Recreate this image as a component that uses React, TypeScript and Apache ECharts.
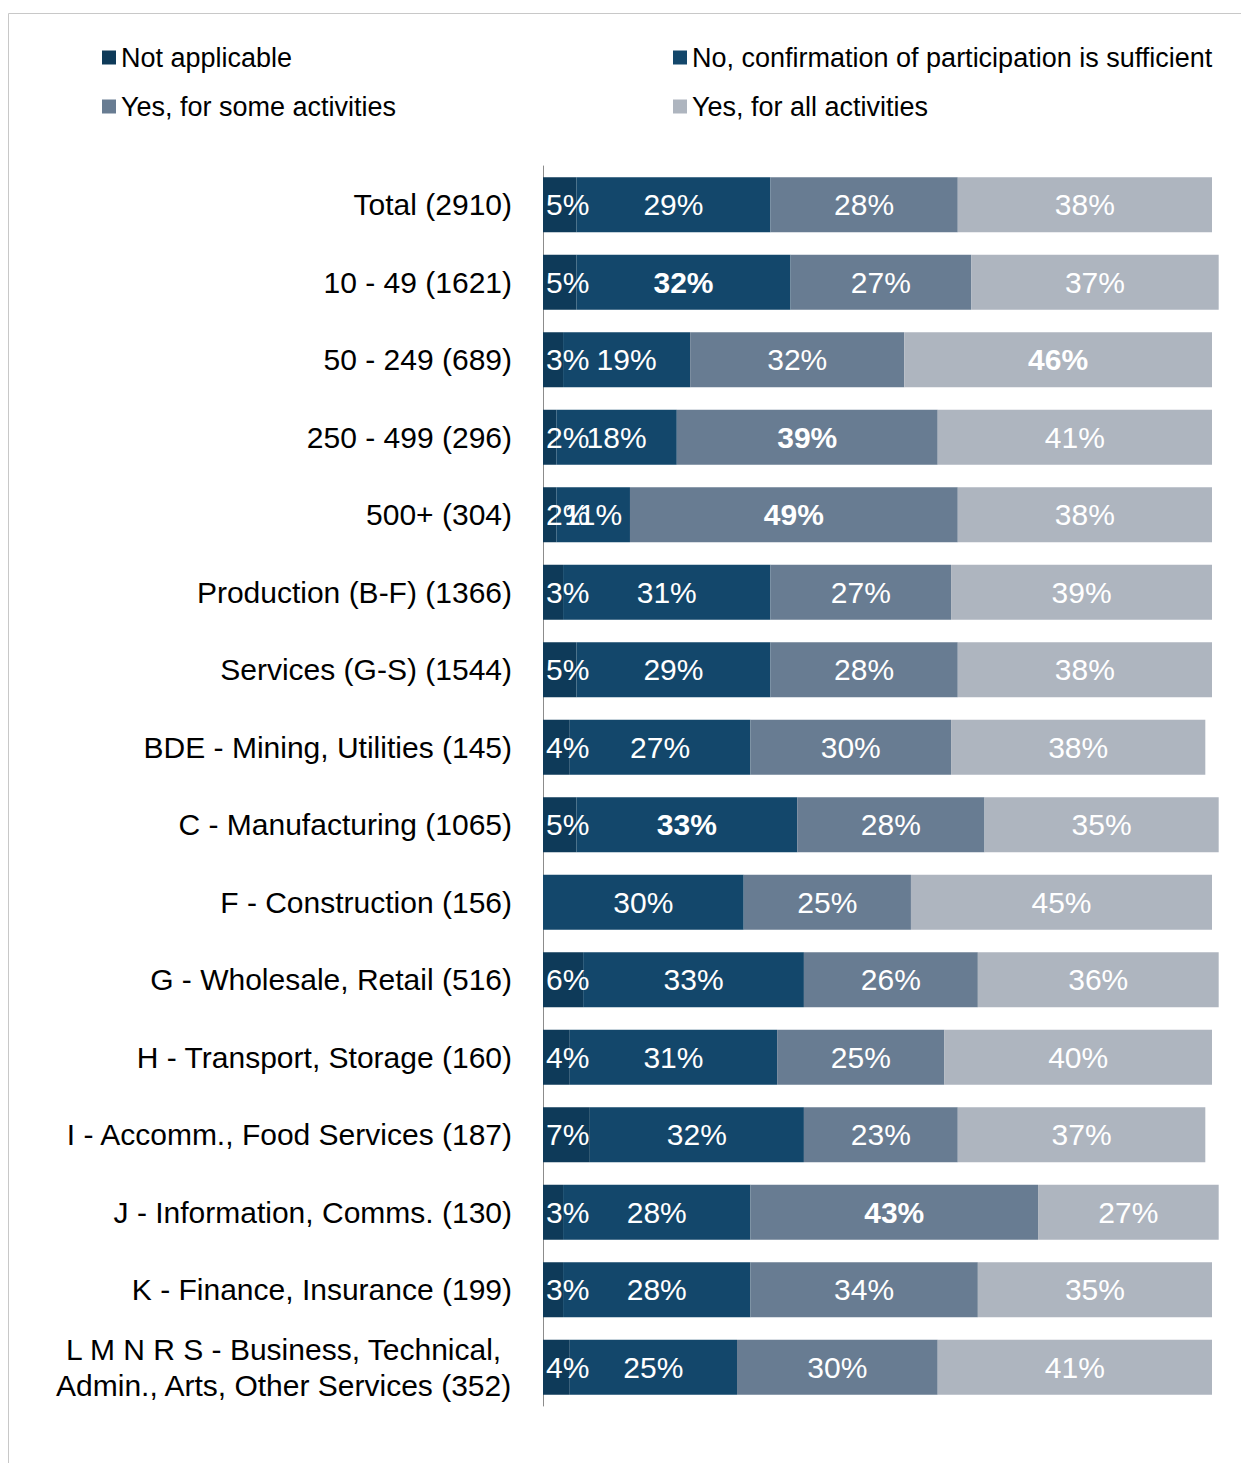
import React, { useEffect, useRef } from "react";
import * as echarts from "echarts";

const categories = [
  "Total (2910)",
  "10 - 49 (1621)",
  "50 - 249 (689)",
  "250 - 499 (296)",
  "500+ (304)",
  "Production (B-F) (1366)",
  "Services (G-S) (1544)",
  "BDE - Mining, Utilities (145)",
  "C - Manufacturing (1065)",
  "F - Construction (156)",
  "G - Wholesale, Retail (516)",
  "H - Transport, Storage (160)",
  "I - Accomm., Food Services (187)",
  "J - Information, Comms. (130)",
  "K - Finance, Insurance (199)",
  "L M N R S - Business, Technical,\nAdmin., Arts, Other Services (352)",
];

const seriesNames = [
  "Not applicable",
  "No, confirmation of participation is sufficient",
  "Yes, for some activities",
  "Yes, for all activities",
];

const notApplicable = [5, 5, 3, 2, 2, 3, 5, 4, 5, 0, 6, 4, 7, 3, 3, 4];
const noConfirmation = [29, 32, 19, 18, 11, 31, 29, 27, 33, 30, 33, 31, 32, 28, 28, 25];
const yesSome = [28, 27, 32, 39, 49, 27, 28, 30, 28, 25, 26, 25, 23, 43, 34, 30];
const yesAll = [38, 37, 46, 41, 38, 39, 38, 38, 35, 45, 36, 40, 37, 27, 35, 41];

// [category index, series index] of values shown in bold
const highlighted = [
  [1, 1],
  [2, 3],
  [3, 2],
  [4, 2],
  [8, 1],
  [13, 2],
];

const colors = ["#0e3a59", "#13476b", "#687c92", "#aeb5bf"];
const FONT = "Liberation Sans";

export default function App() {
  const ref = useRef<HTMLDivElement>(null);

  useEffect(() => {
    document.body.style.margin = "0";
    const chart = echarts.init(ref.current!, null, { renderer: "svg" });
    const values = [notApplicable, noConfirmation, yesSome, yesAll];

    const series = values.map((arr, si) => ({
      name: seriesNames[si],
      type: "bar",
      stack: "total",
      barWidth: 55,
      clip: false,
      itemStyle: { color: colors[si] },
      label: {
        show: true,
        position: si === 0 ? "insideLeft" : "inside",
        distance: 3,
        color: "#ffffff",
        fontFamily: FONT,
        fontSize: 30,
        formatter: (p: any) => (p.value ? p.value + "%" : ""),
      },
      data: arr.map((v, ci) => {
        const bold = highlighted.some((h) => h[0] === ci && h[1] === si);
        return bold
          ? { value: v, label: { fontWeight: "bold" } }
          : { value: v };
      }),
    }));

    const legendText = { fontFamily: FONT, fontSize: 27, color: "#000" };

    chart.setOption({
      animation: false,
      graphic: [
        {
          type: "rect",
          shape: { x: 8.5, y: 13.5, width: 1400, height: 1600 },
          style: { fill: "none", stroke: "#c8c8c8", lineWidth: 1 },
          silent: true,
        },
      ],
      legend: [
        {
          orient: "vertical",
          left: 97,
          top: 39,
          itemWidth: 14,
          itemHeight: 14,
          itemGap: 22,
          icon: "rect",
          textStyle: legendText,
          data: [seriesNames[0], seriesNames[2]],
        },
        {
          orient: "vertical",
          left: 668,
          top: 39,
          itemWidth: 14,
          itemHeight: 14,
          itemGap: 22,
          icon: "rect",
          textStyle: legendText,
          data: [seriesNames[1], seriesNames[3]],
        },
      ],
      grid: { left: 543, right: 29, top: 166, height: 1240, containLabel: false },
      xAxis: {
        type: "value",
        min: 0,
        max: 100,
        show: false,
      },
      yAxis: {
        type: "category",
        inverse: true,
        data: categories,
        axisTick: { show: false },
        axisLine: { show: true, lineStyle: { color: "#8c8c8c", width: 1 } },
        axisLabel: {
          margin: 31,
          color: "#000",
          fontFamily: FONT,
          fontSize: 30,
          formatter: (v: string) => {
            if (v.indexOf("\n") >= 0) {
              return v
                .split("\n")
                .map((l) => "{c|" + l + "}")
                .join("\n");
            }
            return v;
          },
          rich: {
            c: {
              align: "center",
              fontFamily: FONT,
              fontSize: 30,
              color: "#000",
              lineHeight: 36,
            },
          },
        },
      },
      series,
    });

    return () => chart.dispose();
  }, []);

  return <div ref={ref} style={{ width: 1241, height: 1463 }} />;
}
